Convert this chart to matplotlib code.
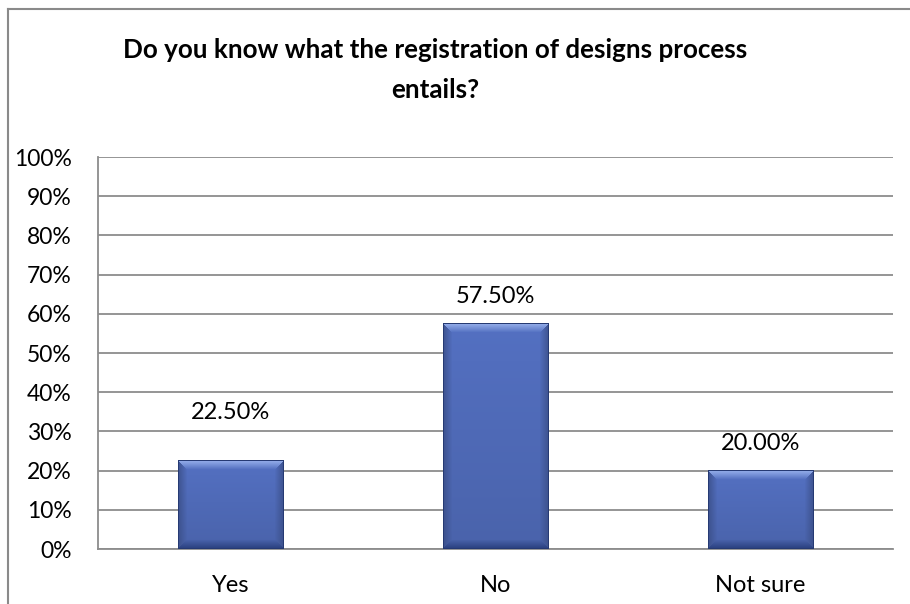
import matplotlib.pyplot as plt
import matplotlib.lines as mlines
import numpy as np

plt.rcParams['font.family'] = ['Lato', 'DejaVu Sans']

categories = ['Yes', 'No', 'Not sure']
values = [22.5, 57.5, 20.0]
value_labels = ['22.50%', '57.50%', '20.00%']
label_offsets = [27, 12, 12]  # points above the bar top
yticks = list(range(0, 101, 10))
title_lines = ['Do you know what the registration of designs process', 'entails?']

W, H, DPI = 9.1, 6.04, 100
fig = plt.figure(figsize=(W, H), dpi=DPI)
ax = fig.add_axes([98 / 910, 55 / 604, 795 / 910, 392 / 604])

bar_width = 0.4
base = np.array([82, 110, 190]) / 255
light = np.array([150, 175, 235]) / 255
dark = np.array([38, 58, 115]) / 255


def bevel_image(wpx, hpx, b=9):
    """Build an RGB array with a bevelled look for one bar."""
    rows = np.arange(hpx)[:, None] * np.ones((1, wpx))
    cols = np.ones((hpx, 1)) * np.arange(wpx)[None, :]
    dt = rows
    db = hpx - 1 - rows
    dl = cols
    dr = wpx - 1 - cols
    stack = np.stack([dt, db, dl, dr])
    which = np.argmin(stack, axis=0)
    m = np.min(stack, axis=0)
    # body gets a slight vertical gradient
    t = rows / max(hpx - 1, 1)
    img = base[None, None, :] * (1.02 - 0.12 * t[..., None])
    f = np.clip((b - m) / b, 0, 1)[..., None]
    top = np.where(which == 0, 1, 0)[..., None]
    bot = np.where(which == 1, 1, 0)[..., None]
    side = np.where(which >= 2, 1, 0)[..., None]
    img = img * (1 - f * top) + light * f * top
    img = img * (1 - f * bot) + (dark * 1.1) * f * bot
    side_col = base * 0.7
    img = img * (1 - 0.8 * f * side) + side_col * 0.8 * f * side
    # thin dark outline
    edge = (m < 1)[..., None]
    img = np.where(edge, dark, img)
    return np.clip(img, 0, 1)


ax_w_px = 795
ax_h_px = 392
x = np.arange(len(categories))
for xi, v, lab, off in zip(x, values, value_labels, label_offsets):
    x0, x1 = xi - bar_width / 2, xi + bar_width / 2
    wpx = int(round(bar_width / 3 * ax_w_px))
    hpx = max(int(round(v / 100 * ax_h_px)), 2)
    ax.imshow(bevel_image(wpx, hpx), extent=(x0, x1, 0, v), aspect='auto',
              interpolation='bilinear', zorder=3)
    ax.annotate(lab, (xi, v), xytext=(0, off), textcoords='offset points',
                ha='center', va='bottom', fontsize=17, color='black')

ax.set_xlim(-0.5, 2.5)
ax.set_ylim(0, 100)
ax.set_yticks(yticks)
ax.set_yticklabels([f'{t}%' for t in yticks], fontsize=16.5)
ax.set_xticks(x)
ax.set_xticklabels(categories, fontsize=17)
ax.tick_params(axis='y', length=0, pad=19)
ax.tick_params(axis='x', length=0, pad=19)
ax.grid(axis='y', color='#8c8c8c', linewidth=1.3, zorder=0)
ax.set_axisbelow(True)
for side in ['top', 'right']:
    ax.spines[side].set_visible(False)
for side in ['left', 'bottom']:
    ax.spines[side].set_color('#8c8c8c')
    ax.spines[side].set_linewidth(1.3)

# chart border (only top and left edges fall inside the frame)
fig.add_artist(mlines.Line2D([8 / 910, 8 / 910], [0, 1 - 9 / 604],
                             color='#8a8a8a', linewidth=1.5))
fig.add_artist(mlines.Line2D([8 / 910, 1], [1 - 9 / 604, 1 - 9 / 604],
                             color='#8a8a8a', linewidth=1.5))

fig.text(435 / 910, 1 - 58 / 604, title_lines[0], ha='center', va='baseline',
         fontsize=18.7, fontweight='bold')
fig.text(435 / 910, 1 - 98 / 604, title_lines[1], ha='center', va='baseline',
         fontsize=18.7, fontweight='bold')

fig.savefig('out.png', dpi=DPI)
